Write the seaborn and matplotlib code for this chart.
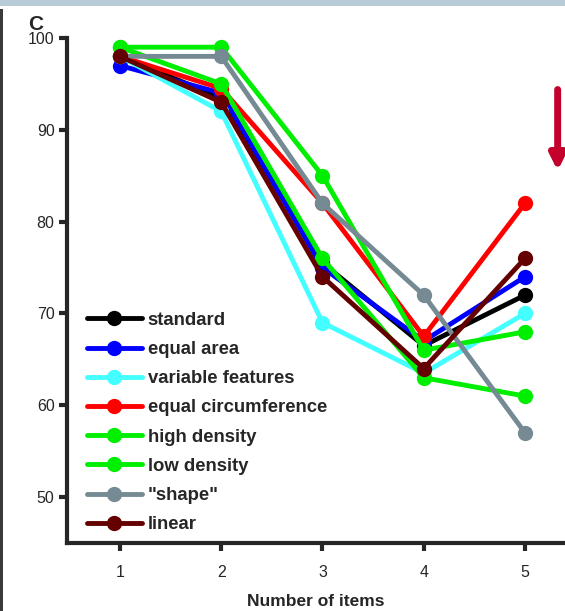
import numpy as np
import pandas as pd
import matplotlib
matplotlib.use("Agg")
import matplotlib.pyplot as plt
from matplotlib.patches import Rectangle
import seaborn as sns

# values (percent correct)
items = [1, 2, 3, 4, 5]
conditions = ["standard", "equal area", "variable features", "equal circumference",
              "high density", "low density", '"shape"', "linear"]
standard = [98, 93.5, 75.5, 66.5, 72]
equal_area = [97, 94, 75, 67, 74]
variable_features = [98, 92, 69, 63.5, 70]
equal_circumference = [98, 94.5, 82, 67.5, 82]
high_density = [99, 99, 85, 66, 68]
low_density = [99, 95, 76, 63, 61]
shape = [98, 98, 82, 72, 57]
linear = [98, 93, 74, 64, 76]
colors = ["#000000", "#0000ff", "#44ffff", "#ff0000", "#00ee00", "#00ee00", "#758a93", "#640000"]

series = [standard, equal_area, variable_features, equal_circumference,
          high_density, low_density, shape, linear]
df = pd.DataFrame({
    "items": items * len(conditions),
    "pct": np.concatenate(series),
    "condition": np.repeat(conditions, len(items)),
})

sns.set_style("ticks")
plt.rcParams["font.family"] = ["Liberation Sans", "DejaVu Sans"]

fig = plt.figure(figsize=(5.65, 6.11), dpi=100)
ax = fig.add_axes([0.1186, 0.1113, 0.8814, 0.8265])

sns.lineplot(data=df, x="items", y="pct", hue="condition", hue_order=conditions,
             palette=dict(zip(conditions, colors)), marker="o", markersize=11,
             markeredgewidth=0, linewidth=3.5, ax=ax)

ax.set_xlim(0.477, 5.395)
ax.set_ylim(45, 100)
ax.set_xticks(items)
ax.set_yticks([50, 60, 70, 80, 90, 100])
ax.tick_params(axis="both", width=3, length=6, labelsize=11.5, pad=10)
ax.tick_params(axis="y", pad=3)
for side in ["left", "bottom"]:
    ax.spines[side].set_linewidth(3)
sns.despine(ax=ax)
ax.set_xlabel("Number of items", fontsize=12.5, fontweight="bold", labelpad=10)
ax.set_ylabel("")

leg = ax.legend(loc="upper left", bbox_to_anchor=(0.01, 0.487), frameon=False,
                handlelength=3.0, handletextpad=0.3, labelspacing=0.66,
                borderaxespad=0.4, prop={"size": 13.3, "weight": "bold"})

fig.text(0.05, 0.945, "C", fontsize=15, fontweight="bold", ha="left", va="bottom")

# red arrow on the right side
ax.annotate("", xy=(0.987, 0.716), xytext=(0.987, 0.858),
            xycoords="figure fraction", textcoords="figure fraction",
            arrowprops=dict(arrowstyle="-|>,head_width=0.45,head_length=0.9",
                            color="#c4002c", lw=5))

# screenshot frame remnants
fig.add_artist(Rectangle((0, 0.99), 1, 0.01, transform=fig.transFigure,
                         color="#b8ccd8", lw=0))
fig.add_artist(Rectangle((0, 0), 0.005, 0.985, transform=fig.transFigure,
                         color="#3a3a3a", lw=0))

fig.savefig("out.png", dpi=100)
